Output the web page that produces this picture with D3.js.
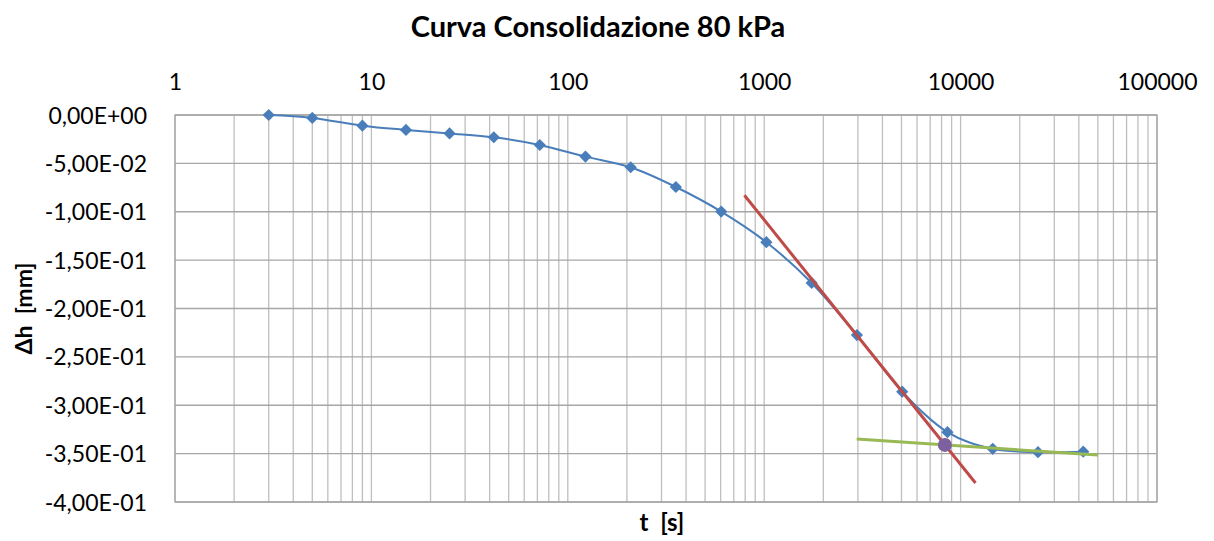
<!DOCTYPE html>
<html>
<head>
<meta charset="utf-8">
<script src="https://cdn.jsdelivr.net/npm/d3@7"></script>
<style>
  body { margin: 0; background: #fff; }
  text { font-family: Lato, "Open Sans", sans-serif; white-space: pre; }
</style>
</head>
<body>
<div id="chart"></div>
<script>
// measured data: time [s] and settlement [mm]
var times = [3, 5, 9, 15, 25, 42, 72, 123, 209, 355, 604, 1026, 1745, 2966, 5043, 8573, 14574, 24776, 42119];
var deltaH = [0, -0.003, -0.011, -0.0154, -0.019, -0.023, -0.031, -0.043, -0.054, -0.0744,
    -0.0998, -0.1315, -0.1736, -0.2275, -0.286, -0.3278, -0.345, -0.3485, -0.348];

// construction lines (Casagrande)
var redLineT = [793, 11910];
var redLineH = [-0.083, -0.3804];
var greenLineT = [2958, 50100];
var greenLineH = [-0.335, -0.3515];
var pointT = [8318];
var pointH = [-0.341];

var xTicks = [1, 10, 100, 1000, 10000, 100000];
var yTicks = [0, -0.05, -0.1, -0.15, -0.2, -0.25, -0.3, -0.35, -0.4];

var svgWidth = 1214, svgHeight = 541;
var margin = { top: 115, bottom: 39, left: 175, right: 57 };
var width = svgWidth - margin.left - margin.right;
var height = svgHeight - margin.top - margin.bottom;

var svg = d3.select("#chart").append("svg")
    .attr("width", svgWidth)
    .attr("height", svgHeight);

var chartGroup = svg.append("g")
    .attr("transform", `translate(${margin.left}, ${margin.top})`);

var xScale = d3.scaleLog().domain([1, 100000]).range([0, width]);
var yScale = d3.scaleLinear().domain([-0.4, 0]).range([height, 0]);

// grid lines: every minor step on the log axis
var minor = [];
for (var k = 0; k < 5; k++) {
    for (var m = 1; m <= 9; m++) minor.push(m * Math.pow(10, k));
}
minor.push(100000);

chartGroup.selectAll(".vgrid")
    .data(minor)
    .enter()
    .append("line")
    .attr("x1", d => xScale(d))
    .attr("x2", d => xScale(d))
    .attr("y1", 0)
    .attr("y2", height)
    .attr("stroke", "#bfbfbf")
    .attr("stroke-width", 1.3);

chartGroup.selectAll(".hgrid")
    .data(yTicks)
    .enter()
    .append("line")
    .attr("x1", 0)
    .attr("x2", width)
    .attr("y1", d => yScale(d))
    .attr("y2", d => yScale(d))
    .attr("stroke", "#a6a6a6")
    .attr("stroke-width", 1.3);

chartGroup.append("rect")
    .attr("width", width)
    .attr("height", height)
    .attr("fill", "none")
    .attr("stroke", "#a6a6a6")
    .attr("stroke-width", 1.3);

// axes
function sciFormat(v) {
    var s = v.toExponential(2);
    var parts = s.split("e");
    var exp = parseInt(parts[1]);
    var sign = exp < 0 ? "-" : "+";
    var e = Math.abs(exp);
    return parts[0].replace(".", ",") + "E" + sign + (e < 10 ? "0" + e : e);
}

var xAxis = d3.axisTop(xScale).tickValues(xTicks).tickSize(0).tickPadding(25)
    .tickFormat(d3.format("d"));
var yAxis = d3.axisLeft(yScale).tickValues(yTicks).tickSize(0).tickPadding(28)
    .tickFormat(d => sciFormat(d));

var gx = chartGroup.append("g").call(xAxis);
var gy = chartGroup.append("g").call(yAxis);
[gx, gy].forEach(function(g) {
    g.select(".domain").remove();
    g.selectAll("text")
        .attr("font-family", "Lato, 'Open Sans', sans-serif")
        .attr("font-size", "23px")
        .attr("fill", "#000");
});
gy.selectAll("text").attr("dy", "0.35em");

// data line
var line = d3.line()
    .x(d => xScale(d[0]))
    .y(d => yScale(d[1]))
    .curve(d3.curveCatmullRom.alpha(0));

var pts = times.map((t, i) => [t, deltaH[i]]);

chartGroup.append("path")
    .datum(pts)
    .attr("d", line)
    .attr("fill", "none")
    .attr("stroke", "#4a7ebb")
    .attr("stroke-width", 2);

chartGroup.selectAll(".marker")
    .data(pts)
    .enter()
    .append("path")
    .attr("d", d3.symbol().type(d3.symbolDiamond2).size(95))
    .attr("transform", d => `translate(${xScale(d[0])}, ${yScale(d[1])})`)
    .attr("fill", "#4a7ebb");

// construction lines
var straight = d3.line().x(d => xScale(d[0])).y(d => yScale(d[1]));

chartGroup.append("path")
    .datum(redLineT.map((t, i) => [t, redLineH[i]]))
    .attr("d", straight)
    .attr("fill", "none")
    .attr("stroke", "#be4b48")
    .attr("stroke-width", 3);

chartGroup.append("path")
    .datum(greenLineT.map((t, i) => [t, greenLineH[i]]))
    .attr("d", straight)
    .attr("fill", "none")
    .attr("stroke", "#98b954")
    .attr("stroke-width", 3);

chartGroup.selectAll(".purple")
    .data(pointT.map((t, i) => [t, pointH[i]]))
    .enter()
    .append("circle")
    .attr("cx", d => xScale(d[0]))
    .attr("cy", d => yScale(d[1]))
    .attr("r", 7)
    .attr("fill", "#7d60a0");

// titles
svg.append("text")
    .attr("x", 598)
    .attr("y", 37)
    .attr("text-anchor", "middle")
    .attr("font-size", "29px")
    .attr("font-weight", "bold")
    .text("Curva Consolidazione 80 kPa");

svg.append("text")
    .attr("x", 662)
    .attr("y", 531)
    .attr("text-anchor", "middle")
    .attr("font-size", "24px")
    .attr("font-weight", "bold")
    .text("t  [s]");

svg.append("text")
    .attr("transform", `translate(32, ${margin.top + height / 2}) rotate(-90)`)
    .attr("text-anchor", "middle")
    .attr("font-size", "23px")
    .attr("font-weight", "bold")
    .text("Δh  [mm]");
</script>
</body>
</html>
